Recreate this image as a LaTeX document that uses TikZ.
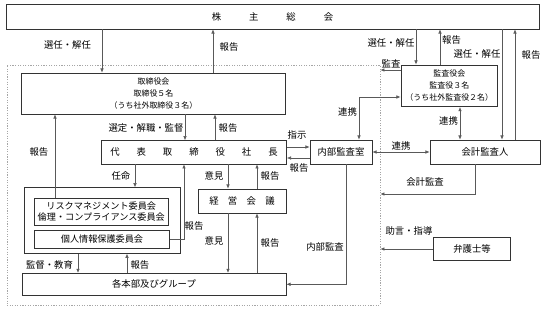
\documentclass[tikz,border=0pt]{standalone}
\usepackage{fontspec}
\newfontfamily\jpfont{Noto Sans CJK JP}
\usetikzlibrary{arrows.meta}
\makeatletter
\newcommand\spreadchars[2]{\@tfor\spr@c:=#2\do{\makebox[#1]{\spr@c}}}
\makeatother

\begin{document}
\begin{tikzpicture}[x=0.03cm, y=-0.03cm,
	box/.style={shape=rectangle, draw=black!80, line width=0.7pt, inner sep=0pt, align=center, font=\jpfont\fontsize{8pt}{10pt}\selectfont},
	small/.style={font=\jpfont\fontsize{6.8pt}{10.2pt}\selectfont},
	comm/.style={font=\jpfont\fontsize{7.8pt}{9.4pt}\selectfont},
	lbl/.style={inner sep=0pt, font=\jpfont\fontsize{8pt}{10pt}\selectfont},
	conn/.style={draw=black!65, line width=0.5pt, -{Latex[length=3.5pt,width=3pt]}},
	biconn/.style={conn, {Latex[length=3.5pt,width=3pt]}-{Latex[length=3.5pt,width=3pt]}},
	zone/.style={shape=rectangle, draw=black!35, line width=0.6pt, dash pattern=on 1pt off 1.2pt, inner sep=0pt}]
	\useasboundingbox (0,0) rectangle (547,312);
	% Paths, nodes and wires:
	\node[zone, minimum width=11.19cm, minimum height=7.2cm] (zone) at (193.5,185){};
	\node[box, minimum width=15.99cm, minimum height=0.75cm] (sh) at (272.5,16.5){\spreadchars{1.12cm}{株主総会}};
	\node[box, small, minimum width=7.92cm, minimum height=1.23cm] (tb) at (153.5,93.5){取締役会\\取締役５名\\（うち社外取締役３名）};
	\node[box, minimum width=5.55cm, minimum height=0.7cm] (ceo) at (194,152.3){\spreadchars{0.79cm}{代表取締役社長}};
	\node[box, minimum width=4.68cm, minimum height=1.97cm] (cmt) at (102,220.5){};
	\node[box, comm, minimum width=4.02cm, minimum height=0.8cm] (risk) at (101.3,211.7){リスクマネジメント委員会\\倫理・コンプライアンス委員会};
	\node[box, comm, minimum width=4.07cm, minimum height=0.56cm] (priv) at (102,239.3){個人情報保護委員会};
	\node[box, minimum width=2.64cm, minimum height=0.72cm] (mtg) at (242,201){\spreadchars{0.56cm}{経営会議}};
	\node[box, minimum width=7.92cm, minimum height=0.66cm] (grp) at (154,284.3){各本部及びグループ};
	\node[box, minimum width=1.86cm, minimum height=0.72cm] (ia) at (341,152){内部監査室};
	\node[box, small, minimum width=2.9cm, minimum height=1.25cm] (kan) at (449.3,85.8){監査役会\\監査役３名\\（うち社外監査役２名）};
	\node[box, minimum width=3.3cm, minimum height=0.72cm] (acc) at (485,152){会計監査人};
	\node[box, minimum width=2.32cm, minimum height=0.71cm] (law) at (472,249){弁護士等};

	% shareholders and board
	\draw[conn] (sh.south -| 102,0) -- (tb.north -| 102,0);
	\draw[conn] (tb.north -| 213,0) -- (sh.south -| 213,0);
	\node[lbl] (lbl-sel1) at (67.5,45){選任・解任};
	\node[lbl] (lbl-rep1) at (229,47){報告};
	\draw[conn] (tb.south -| 185,0) -- (ceo.north -| 185,0);
	\draw[conn] (ceo.north -| 215,0) -- (tb.south -| 215,0);
	\node[lbl] (lbl-sup) at (146,127.5){選定・解職・監督};
	\node[lbl] (lbl-rep2) at (228,128){報告};
	\draw[conn] (risk.north -| 55,0) -- (tb.south -| 55,0);
	\node[lbl] (lbl-rep3) at (39,152){報告};

	% president, committees and management meeting
	\draw[conn] (ceo.south -| 135,0) -- (cmt.north -| 135,0);
	\node[lbl] (lbl-app) at (121,176){任命};
	\draw[conn] (priv.east) -| (ceo.south -| 184,0);
	\node[lbl] (lbl-rep4) at (194,226){報告};
	\draw[conn] (ceo.south -| 228,0) -- (mtg.north -| 228,0);
	\draw[conn] (mtg.north -| 257,0) -- (ceo.south -| 257,0);
	\node[lbl] (lbl-op1) at (214,176){意見};
	\node[lbl] (lbl-rep5) at (270,176){報告};
	\draw[conn] (mtg.south -| 228,0) -- (grp.north -| 228,0);
	\draw[conn] (grp.north -| 257,0) -- (mtg.south -| 257,0);
	\node[lbl] (lbl-op2) at (214,241){意見};
	\node[lbl] (lbl-rep6) at (270,242.5){報告};
	\draw[conn] (cmt.south -| 78,0) -- (grp.north -| 78,0);
	\draw[conn] (grp.north -| 127,0) -- (cmt.south -| 127,0);
	\node[lbl] (lbl-edu) at (49.5,265){監督・教育};
	\node[lbl] (lbl-rep7) at (140,265){報告};

	% internal audit
	\draw[conn] (ceo.east |- 0,147) -- (ia.west |- 0,147);
	\draw[conn] (ia.west |- 0,158) -- (ceo.east |- 0,158);
	\node[lbl] (lbl-ord) at (297,135){指示};
	\node[lbl] (lbl-rep8) at (299,168){報告};
	\draw[conn] (ia.south -| 346,0) |- (grp.east);
	\node[lbl] (lbl-ia) at (325,246.5){内部監査};

	% auditors
	\draw[conn] (kan.west |- 0,70) -- (zone.east |- 0,70);
	\node[lbl] (lbl-aud) at (391,64){監査};
	\draw[conn] (sh.south -| 416,0) -- (kan.north -| 416,0);
	\draw[conn] (kan.north -| 440,0) -- (sh.south -| 440,0);
	\node[lbl] (lbl-sel2) at (391,43){選任・解任};
	\node[lbl] (lbl-rep9) at (451.5,40){報告};
	\draw[conn] (sh.south -| 502,0) -- (acc.north -| 502,0);
	\draw[conn] (acc.north -| 515,0) -- (sh.south -| 515,0);
	\node[lbl] (lbl-sel3) at (477,54){選任・解任};
	\node[lbl] (lbl-rep10) at (531,55){報告};
	\draw[biconn] (kan.west |- 0,97) -| (ia.north -| 359,0);
	\node[lbl] (lbl-co1) at (347.5,111.7){連携};
	\draw[biconn] (kan.south -| 460,0) -- (acc.north -| 460,0);
	\node[lbl] (lbl-co2) at (448.5,120.7){連携};
	\draw[biconn] (ia.east) -- (acc.west);
	\node[lbl] (lbl-co3) at (401,146){連携};
	\draw[conn] (acc.south -| 475,0) |- (zone.east |- 0,194);
	\node[lbl] (lbl-acc) at (425,182){会計監査};
	\draw[conn] (law.west) -- (zone.east |- law.west);
	\node[lbl] (lbl-adv) at (409,230.5){助言・指導};
\end{tikzpicture}
\end{document}
